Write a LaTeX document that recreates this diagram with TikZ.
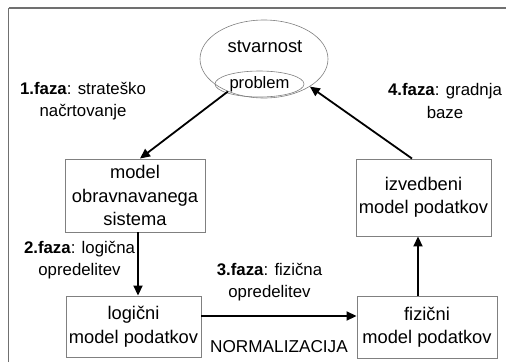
\documentclass[tikz,border=0pt]{standalone}
\usepackage{fontspec}
\setmainfont{Liberation Sans}
\usetikzlibrary{arrows.meta,shapes.geometric}
\definecolor{linegray}{HTML}{808080}
\definecolor{framegray}{HTML}{707070}
\tikzset{
  boxnode/.style={draw=linegray, line width=0.9pt, rectangle, inner sep=0pt, align=center,
    font=\fontsize{18.3}{23.5}\selectfont},
  lbl/.style={align=center, inner sep=0pt, font=\fontsize{16.8}{22.5}\selectfont},
  ell/.style={draw=linegray, line width=0.6pt, ellipse, inner sep=0pt},
  flow/.style={line width=1.8pt, -{Triangle[length=10pt,width=9pt]}}
}
\begin{document}
\begin{tikzpicture}[x=1pt,y=-1pt]
\useasboundingbox (0,0) rectangle (506,362);
% frame
\draw[framegray, line width=1.8pt] (8.5,362) -- (8.5,8);
\draw[framegray, line width=1.3pt] (8.5,8) -- (506,8);
% ellipses
\node[ell, minimum width=128, minimum height=78] (real) at (264,59) {};
\node[inner sep=0pt, font=\fontsize{18.4}{20}\selectfont] (realtxt) at (265,47) {stvarnost};
\node[ell, minimum width=89, minimum height=26, font=\fontsize{16.6}{20}\selectfont] (prob) at (259.5,84) {problem};
% boxes
\node[boxnode, minimum width=140, minimum height=73] (m1) at (135,195.5) {model\\obravnavanega\\sistema};
\node[boxnode, minimum width=135, minimum height=77] (izv) at (423.5,197.5) {izvedbeni\\model podatkov};
\node[boxnode, minimum width=135, minimum height=61] (log) at (133.5,326.5) {logični\\model podatkov};
\node[boxnode, minimum width=140, minimum height=62] (fiz) at (427,327) {fizični\\model podatkov};
% labels
\node[lbl] (l1) at (83,101) {\textbf{1.faza}: strateško\\načrtovanje};
\node[lbl] (l4) at (445,101) {\textbf{4.faza}: gradnja\\baze};
\node[lbl] (l2) at (79.5,260) {\textbf{2.faza}: logična\\opredelitev};
\node[lbl] (l3) at (269.5,282) {\textbf{3.faza}: fizična\\opredelitev};
\node[lbl, font=\fontsize{17.2}{20}\selectfont] (norm) at (279,347) {NORMALIZACIJA};
% arrows
\draw[flow] (real.222) -- ([xshift=5pt]m1.north);
\draw[flow] ([xshift=-11.5pt]izv.north) -- (real.-31);
\draw[flow] ([xshift=3pt]m1.south) -- ([xshift=3pt]m1.south |- log.north);
\draw[flow] ([yshift=10.5pt]log.east) -- ([yshift=10.5pt]log.east -| fiz.west);
\draw[flow] ([xshift=-9pt]fiz.north) -- ([xshift=-9pt]fiz.north |- izv.south);
\end{tikzpicture}
\end{document}
